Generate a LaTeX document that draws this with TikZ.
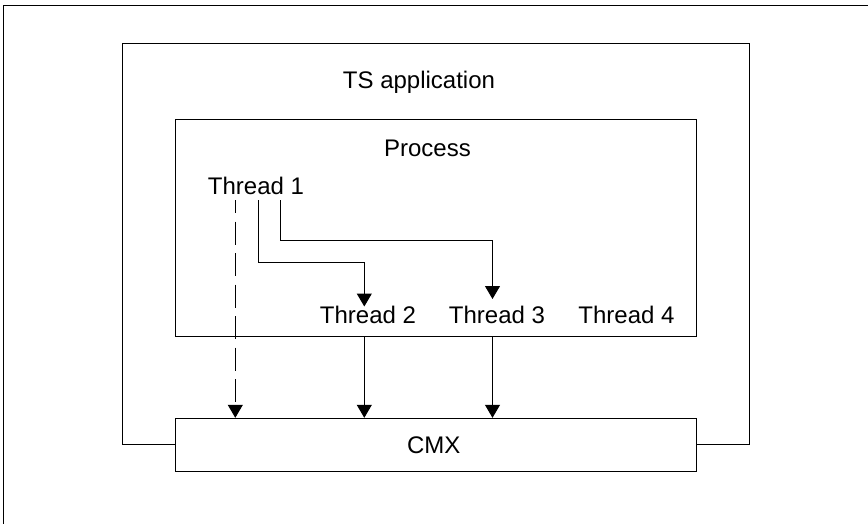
\documentclass[tikz,border=0pt]{standalone}
\usepackage{fontspec}
\setmainfont{Liberation Sans}
\usetikzlibrary{arrows.meta}
\tikzset{
  ln/.style={line width=1pt, line cap=rect},
  arr/.style={line width=1pt, -{Triangle[length=13pt,width=15pt]}},
  box/.style={draw, line width=1pt, rectangle, inner sep=0pt},
  lbl/.style={inner sep=0pt, anchor=base, font=\fontsize{24}{28}\selectfont},
  dsh/.style={dash pattern=on 23pt off 8.5pt, dash phase=10pt}
}
\begin{document}
\begin{tikzpicture}[x=1pt,y=-1pt]
\useasboundingbox (0,0) rectangle (868,523);
% outer frame (top and left edges)
\draw[ln] (868,5) -- (3.3,5) -- (3.3,523);
% boxes
\node[box, minimum width=521.4pt, minimum height=217.4pt] (proc) at (436,228) {};
\node[box, minimum width=521.4pt, minimum height=52.7pt] (cmx) at (436,444.65) {};
\node[lbl] (cmxl) at (433.8,453.3) {CMX};
% TS application frame
\coordinate (tsl) at (122.7,43.3);
\coordinate (tsr) at (749.3,43.3);
\draw[ln] (cmx.west) -| (tsl) -- (tsr) |- (cmx.east);
% labels
\node[lbl] (ts) at (419,88.3) {TS application};
\node[lbl] (procl) at (427.5,156.7) {Process};
\node[lbl] (t1) at (256,194) {Thread 1};
\node[lbl] (t2) at (368,323.3) {Thread 2};
\node[lbl] (t3) at (497,323.3) {Thread 3};
\node[lbl] (t4) at (626.5,323.3) {Thread 4};
% connector coordinates
\coordinate (s0) at (235.3,200);
\coordinate (s1) at (258.3,200);
\coordinate (s2) at (280.7,200);
\coordinate (k1) at (364.3,262.3);
\coordinate (k2) at (492.5,240);
\coordinate (e2) at (364.3,306.5);
\coordinate (e3) at (492.5,299);
% connectors
\draw[arr, dsh] (s0) -- (s0 |- cmx.north);
\draw[arr] (s1) |- (k1) -- (e2);
\draw[arr] (s2) |- (k2) -- (e3);
\draw[arr] (k1 |- proc.south) -- (k1 |- cmx.north);
\draw[arr] (k2 |- proc.south) -- (k2 |- cmx.north);
\end{tikzpicture}
\end{document}
